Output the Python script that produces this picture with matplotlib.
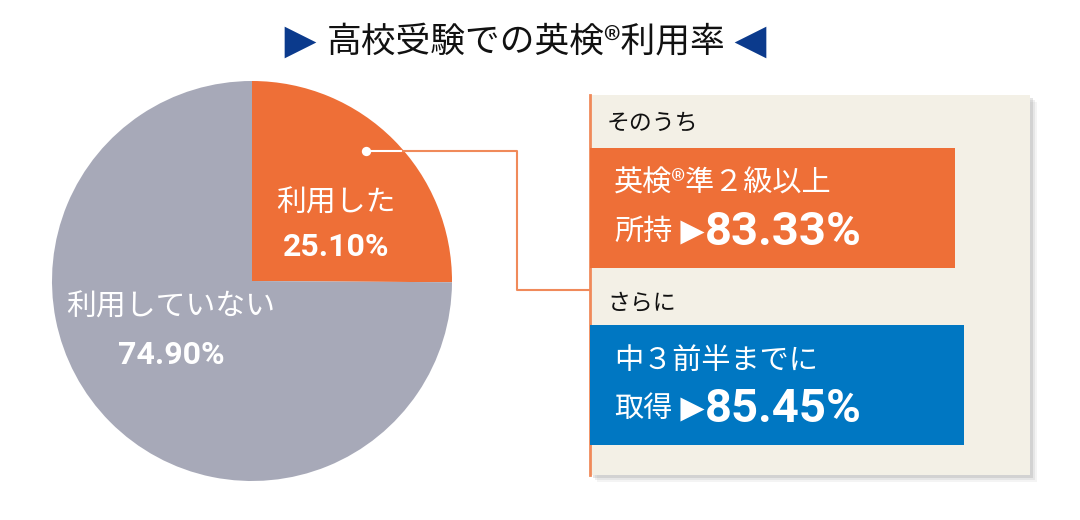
import matplotlib.pyplot as plt
from matplotlib.patches import Rectangle

plt.rcParams['font.family'] = ['Noto Sans CJK JP', 'DejaVu Sans']

# data
pie_labels = ["利用した", "利用していない"]
pie_values = [25.10, 74.90]
pie_colors = ["#EE6F37", "#A7A9B8"]

sub_heads = ["そのうち", "さらに"]
sub_lines = ["英検®準２級以上", "中３前半までに"]
sub_verbs = ["所持", "取得"]
sub_values = [83.33, 85.45]
sub_colors = ["#EE6F37", "#0077C2"]

title = "高校受験での英検®利用率"

fig = plt.figure(figsize=(10.8, 5.2), dpi=100)
ax = fig.add_axes([0, 0, 1, 1])

# pie (y axis is inverted later, so angles run mirrored)
ax.pie(pie_values, colors=pie_colors, startangle=270, counterclock=True,
       center=(252, 281), radius=200, wedgeprops=dict(linewidth=0))
ax.set_xlim(0, 1080)
ax.set_ylim(520, 0)
ax.set_axis_off()

# pie labels
ax.text(336, 203, pie_labels[0], color="white", fontsize=21.5, ha="center", va="center")
ax.text(336, 247, f"{pie_values[0]:.2f}%", color="white", fontsize=23, ha="center",
        va="center", family=["Roboto", "DejaVu Sans"], fontweight="bold")
ax.text(171, 307, pie_labels[1], color="white", fontsize=21.5, ha="center", va="center")
ax.text(171, 355, f"{pie_values[1]:.2f}%", color="white", fontsize=23, ha="center",
        va="center", family=["Roboto", "DejaVu Sans"], fontweight="bold")

# title with triangles
ax.text(526, 42, title, fontsize=25, ha="center", va="center", color="#111111")
ax.scatter([300], [42], marker=">", s=520, color="#0B3A8C", linewidths=0)
ax.scatter([750], [42], marker="<", s=520, color="#0B3A8C", linewidths=0)

# panel with shadow
for off, a in [(7, 0.10), (5, 0.15), (3, 0.25)]:
    ax.add_patch(Rectangle((590 + off, 95 + off), 440, 380, color="#9A9A9A",
                           alpha=a, linewidth=0, zorder=1))
ax.add_patch(Rectangle((590, 95), 440, 380, color="#F3F0E6", linewidth=0, zorder=2))
ax.plot([590, 590], [95, 475], color="#F08A5A", linewidth=2, zorder=3)

# connector
ax.plot([366, 403], [151, 151], color="white", linewidth=1.5, zorder=4)
ax.plot([403, 517, 517, 590], [151, 151, 290, 290], color="#F08A5A", linewidth=1.5, zorder=4)
ax.scatter([366], [151], s=45, color="white", zorder=5, linewidths=0)

# sub boxes
box_tops = [148, 325]
box_widths = [365, 374]
head_y = [123, 303]
for i in range(2):
    top = box_tops[i]
    ax.add_patch(Rectangle((590, top), box_widths[i], 120, color=sub_colors[i],
                           linewidth=0, zorder=3))
    ax.text(607, head_y[i], sub_heads[i], fontsize=16.5, ha="left", va="center",
            color="#111111", zorder=4)
    ax.text(614, top + 36, sub_lines[i], fontsize=21, ha="left", va="center",
            color="white", zorder=4)
    ax.text(614, top + 84, sub_verbs[i], fontsize=21, ha="left", va="center",
            color="white", zorder=4)
    ax.scatter([692], [top + 84], marker=">", s=300, color="white", linewidths=0, zorder=4)
    ax.text(705, top + 84, f"{sub_values[i]:.2f}%", fontsize=34, ha="left", va="center",
            color="white", family=["Roboto", "DejaVu Sans"], fontweight="bold", zorder=4)

fig.savefig("out.png", dpi=100)
